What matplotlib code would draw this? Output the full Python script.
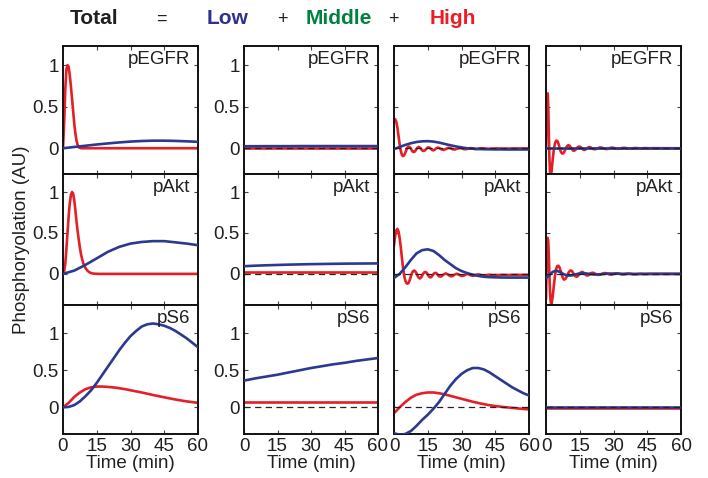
import matplotlib
matplotlib.use("Agg")
import matplotlib.pyplot as plt

# ---------------- data ----------------
T5 = [0, 5, 10, 15, 20, 25, 30, 35, 40, 45, 50, 55, 60]
T2_5 = [0, 2.5, 5, 7.5, 10, 12.5, 15, 17.5, 20, 22.5, 25, 27.5, 30, 32.5,
        35, 37.5, 40, 42.5, 45, 47.5, 50, 52.5, 55, 57.5, 60]

# Total
TOTAL_PEGFR_RED_T = [0, 0.5, 1, 1.5, 2, 2.5, 3, 3.5, 4, 4.5, 5, 5.5, 6, 6.5, 7, 8,
                     10, 20, 30, 40, 50, 60]
TOTAL_PEGFR_RED = [0, 0.3, 0.7, 0.95, 1.0, 0.98, 0.88, 0.75, 0.6, 0.45, 0.3, 0.18,
                   0.09, 0.04, 0.01, 0, 0, 0, 0, 0, 0, 0]
TOTAL_PEGFR_BLUE = [0, 0.015, 0.03, 0.045, 0.058, 0.07, 0.08, 0.087, 0.091, 0.091,
                    0.088, 0.083, 0.077]

TOTAL_PAKT_RED_T = [0, 0.5, 1, 1.5, 2, 2.5, 3, 3.5, 4, 4.5, 5, 5.5, 6, 6.5, 7, 7.5,
                    8, 8.5, 9, 10, 11, 12, 13, 14, 16, 20, 30, 40, 50, 60]
TOTAL_PAKT_RED = [0, 0.03, 0.12, 0.3, 0.5, 0.7, 0.86, 0.96, 1.0, 0.98, 0.9, 0.78,
                  0.64, 0.52, 0.42, 0.32, 0.24, 0.18, 0.13, 0.07, 0.035, 0.015,
                  0.006, 0.002, 0, 0, 0, 0, 0, 0]
TOTAL_PAKT_BLUE = [0, 0.04, 0.11, 0.19, 0.27, 0.33, 0.37, 0.39, 0.40, 0.40, 0.385,
                   0.37, 0.35]

TOTAL_PS6_BLUE = [0, 0.005, 0.03, 0.08, 0.15, 0.23, 0.33, 0.44, 0.55, 0.66, 0.77,
                  0.87, 0.96, 1.03, 1.09, 1.12, 1.13, 1.12, 1.1, 1.07, 1.03, 0.98,
                  0.93, 0.87, 0.81]
TOTAL_PS6_RED = [0, 0.06, 0.14, 0.2, 0.245, 0.27, 0.28, 0.28, 0.275, 0.268, 0.258,
                 0.245, 0.23, 0.215, 0.2, 0.183, 0.166, 0.15, 0.135, 0.12, 0.105,
                 0.092, 0.08, 0.07, 0.06]

# Low
LOW_PEGFR_BLUE = [0.024, 0.024, 0.025, 0.025, 0.025, 0.026, 0.026, 0.026, 0.026,
                  0.026, 0.026, 0.026, 0.026]
LOW_PEGFR_RED = [0.003, 0.003, 0.003, 0.003, 0.003, 0.003, 0.003, 0.003, 0.003,
                 0.003, 0.003, 0.003, 0.003]
LOW_PAKT_BLUE = [0.094, 0.1, 0.105, 0.109, 0.113, 0.116, 0.119, 0.121, 0.123,
                 0.125, 0.126, 0.127, 0.128]
LOW_PAKT_RED = [0.018, 0.018, 0.018, 0.018, 0.018, 0.018, 0.018, 0.018, 0.018,
                0.018, 0.018, 0.018, 0.018]
LOW_PS6_BLUE = [0.36, 0.39, 0.415, 0.44, 0.47, 0.5, 0.53, 0.555, 0.58, 0.6,
                0.625, 0.645, 0.665]
LOW_PS6_RED = [0.078, 0.078, 0.078, 0.078, 0.078, 0.078, 0.078, 0.078, 0.078,
               0.078, 0.078, 0.078, 0.078]

# Middle
MID_OSC_T = [0, 0.5, 1, 1.5, 2, 2.5, 3, 3.5, 4, 4.5, 5, 5.5, 6, 6.5, 7, 7.5, 8,
             8.5, 9, 9.5, 10, 10.5, 11, 11.5, 12, 12.5, 13, 13.5, 14, 14.5, 15,
             15.5, 16, 16.5, 17, 17.5, 18, 18.5, 19, 19.5, 20, 21, 22, 23, 24, 25,
             26, 27, 28, 29, 30, 31, 32, 33, 34, 35, 36, 37, 38, 39, 40, 42, 44,
             46, 48, 50, 52, 54, 56, 58, 60]
MID_PEGFR_RED = [0.34, 0.35, 0.32, 0.25, 0.15, 0.05, -0.03, -0.08, -0.095, -0.085,
                 -0.055, -0.02, 0.01, 0.02, 0.015, -0.005, -0.03, -0.045, -0.045,
                 -0.03, -0.01, 0.008, 0.015, 0.008, -0.008, -0.025, -0.033, -0.03,
                 -0.018, -0.003, 0.008, 0.01, 0.003, -0.01, -0.022, -0.026, -0.02,
                 -0.008, 0.003, 0.007, 0.004, -0.012, -0.02, -0.01, 0.004, 0.002,
                 -0.012, -0.016, -0.006, 0.003, 0.0, -0.01, -0.012, -0.004, 0.002,
                 -0.002, -0.009, -0.008, -0.002, 0.001, -0.003, -0.006, -0.004,
                 -0.002, -0.004, -0.004, -0.003, -0.003, -0.002, -0.002, -0.002]
MID_PEGFR_BLUE = [-0.01, 0.015, 0.04, 0.06, 0.075, 0.083, 0.085, 0.08, 0.068,
                  0.052, 0.036, 0.022, 0.01, 0.0, -0.006, -0.01, -0.012, -0.013,
                  -0.014, -0.014, -0.015, -0.015, -0.015, -0.015, -0.015]
MID_PAKT_RED = [0.35, 0.46, 0.53, 0.55, 0.52, 0.44, 0.33, 0.2, 0.08, -0.02, -0.08,
                -0.11, -0.12, -0.11, -0.075, -0.03, 0.01, 0.035, 0.04, 0.03, 0.005,
                -0.025, -0.048, -0.056, -0.046, -0.022, 0.003, 0.02, 0.024, 0.014,
                -0.008, -0.03, -0.042, -0.04, -0.024, -0.005, 0.01, 0.013, 0.004,
                -0.014, -0.03, -0.032, -0.008, 0.006, -0.008, -0.028, -0.028,
                -0.008, 0.002, -0.012, -0.026, -0.022, -0.006, -0.002, -0.016,
                -0.024, -0.016, -0.006, -0.008, -0.018, -0.02, -0.01, -0.016,
                -0.014, -0.012, -0.014, -0.012, -0.012, -0.012, -0.012, -0.012]
MID_PAKT_BLUE = [-0.05, 0.0, 0.08, 0.17, 0.25, 0.29, 0.3, 0.28, 0.23, 0.17, 0.12,
                 0.07, 0.035, 0.01, -0.01, -0.025, -0.035, -0.04, -0.042, -0.044,
                 -0.045, -0.045, -0.045, -0.045, -0.045]
MID_PS6_RED = [-0.08, 0.0, 0.07, 0.13, 0.17, 0.19, 0.2, 0.2, 0.19, 0.175, 0.155,
               0.135, 0.115, 0.095, 0.075, 0.058, 0.042, 0.028, 0.017, 0.008, 0.0,
               -0.008, -0.015, -0.022, -0.028]
MID_PS6_BLUE = [-0.35, -0.37, -0.36, -0.32, -0.25, -0.17, -0.1, -0.02, 0.07, 0.18,
                0.29, 0.38, 0.45, 0.5, 0.53, 0.53, 0.51, 0.47, 0.42, 0.37, 0.32,
                0.27, 0.23, 0.19, 0.16]

# High
HIGH_PEGFR_RED_T = [0, 0.25, 0.5, 0.75, 1, 1.25, 1.5, 1.75, 2, 2.25, 2.5, 3, 3.5,
                    4, 4.5, 5, 5.5, 6, 6.5, 7, 7.5, 8, 8.5, 9, 9.5, 10, 10.5, 11,
                    11.5, 12, 12.5, 13, 13.5, 14, 14.5, 15, 15.5, 16, 16.5, 17,
                    17.5, 18, 18.5, 19, 19.5, 20, 21, 22, 23, 24, 25, 26, 27, 28,
                    29, 30, 31, 32, 33, 34, 35, 36, 37, 38, 39, 40, 42, 44, 46, 48,
                    50, 55, 60]
HIGH_PEGFR_RED = [0.0, 0.4, 0.62, 0.66, 0.5, 0.2, -0.1, -0.28, -0.34, -0.33, -0.27,
                  -0.13, -0.01, 0.06, 0.09, 0.09, 0.06, 0.01, -0.035, -0.06,
                  -0.065, -0.05, -0.02, 0.01, 0.03, 0.037, 0.03, 0.01, -0.012,
                  -0.027, -0.03, -0.022, -0.006, 0.01, 0.02, 0.02, 0.012, -0.002,
                  -0.015, -0.02, -0.017, -0.006, 0.005, 0.013, 0.014, 0.008, -0.01,
                  -0.012, 0.0, 0.01, 0.006, -0.006, -0.01, -0.002, 0.007, 0.006,
                  -0.003, -0.007, -0.003, 0.004, 0.005, 0.0, -0.005, -0.003, 0.002,
                  0.003, -0.002, 0.002, -0.001, 0.001, 0.0, 0.0, 0.0]
HIGH_PEGFR_BLUE = [0.005, 0.005, 0.005, 0.005, 0.005, 0.005, 0.005, 0.005, 0.005,
                   0.005, 0.005, 0.005, 0.005]
HIGH_PAKT_RED_T = [0, 0.25, 0.5, 0.75, 1, 1.25, 1.5, 1.75, 2, 2.25, 2.5, 3, 3.5, 4,
                   4.5, 5, 5.5, 6, 6.5, 7, 7.5, 8, 8.5, 9, 9.5, 10, 10.5, 11, 11.5,
                   12, 12.5, 13, 13.5, 14, 14.5, 15, 15.5, 16, 16.5, 17, 17.5, 18,
                   18.5, 19, 19.5, 20, 21, 22, 23, 24, 25, 26, 27, 28, 29, 30, 31,
                   32, 33, 34, 35, 36, 37, 38, 39, 40, 42, 44, 46, 50, 55, 60]
HIGH_PAKT_RED = [-0.3, 0.05, 0.35, 0.44, 0.4, 0.22, 0.0, -0.2, -0.32, -0.37, -0.36,
                 -0.27, -0.14, -0.02, 0.06, 0.095, 0.1, 0.08, 0.04, -0.01, -0.05,
                 -0.07, -0.065, -0.045, -0.015, 0.015, 0.035, 0.042, 0.035, 0.015,
                 -0.008, -0.027, -0.035, -0.03, -0.015, 0.003, 0.018, 0.024, 0.02,
                 0.007, -0.008, -0.018, -0.02, -0.014, -0.002, 0.01, 0.014, 0.0,
                 -0.012, -0.01, 0.002, 0.01, 0.006, -0.006, -0.009, -0.002, 0.006,
                 0.006, -0.002, -0.006, -0.003, 0.003, 0.004, 0.0, -0.003, -0.002,
                 0.002, -0.001, 0.001, 0.0, 0.0, 0.0]
HIGH_PAKT_BLUE_T = [0, 1, 2, 3, 4, 5, 6, 7, 8, 9, 10, 11, 12, 13, 14, 15, 16, 18,
                    20, 22, 24, 26, 28, 30, 35, 40, 50, 60]
HIGH_PAKT_BLUE = [-0.05, -0.03, 0.0, 0.025, 0.035, 0.035, 0.025, 0.01, -0.005,
                  -0.015, -0.02, -0.02, -0.015, -0.008, 0.0, 0.005, 0.008, 0.005,
                  -0.003, -0.008, -0.005, 0.0, 0.004, 0.003, 0.0, -0.002, 0.0, 0.0]
HIGH_PS6_RED = [-0.004, -0.004, -0.004, -0.004, -0.004, -0.004, -0.004, -0.004,
                -0.004, -0.004, -0.004, -0.004, -0.004]
HIGH_PS6_BLUE = [0.0, 0.0, 0.0, 0.0, 0.0, 0.0, 0.0, 0.0, 0.0, 0.0, 0.0, 0.0, 0.0]

COLUMN_TITLES = ["Total", "Low", "Middle", "High"]
ROW_LABELS = ["pEGFR", "pAkt", "pS6"]
X_TICKS = [0, 15, 30, 45, 60]
Y_TICKS = [0, 0.5, 1]
Y_TICK_LABELS = ["0", "0.5", "1"]

# (red_t, red, blue_t, blue) for each row (pEGFR, pAkt, pS6) and column
PANELS = [
    [(TOTAL_PEGFR_RED_T, TOTAL_PEGFR_RED, T5, TOTAL_PEGFR_BLUE),
     (T5, LOW_PEGFR_RED, T5, LOW_PEGFR_BLUE),
     (MID_OSC_T, MID_PEGFR_RED, T2_5, MID_PEGFR_BLUE),
     (HIGH_PEGFR_RED_T, HIGH_PEGFR_RED, T5, HIGH_PEGFR_BLUE)],
    [(TOTAL_PAKT_RED_T, TOTAL_PAKT_RED, T5, TOTAL_PAKT_BLUE),
     (T5, LOW_PAKT_RED, T5, LOW_PAKT_BLUE),
     (MID_OSC_T, MID_PAKT_RED, T2_5, MID_PAKT_BLUE),
     (HIGH_PAKT_RED_T, HIGH_PAKT_RED, HIGH_PAKT_BLUE_T, HIGH_PAKT_BLUE)],
    [(T2_5, TOTAL_PS6_RED, T2_5, TOTAL_PS6_BLUE),
     (T5, LOW_PS6_RED, T5, LOW_PS6_BLUE),
     (T2_5, MID_PS6_RED, T2_5, MID_PS6_BLUE),
     (T5, HIGH_PS6_RED, T5, HIGH_PS6_BLUE)],
]

# ---------------- style ----------------
RED = "#e41f26"
BLUE = "#2b3990"
TXT = "#231f20"
W, H = 708, 478
COLS = [(63, 198), (244, 378), (394, 529), (546, 681)]
ROWS = [(46, 174), (174, 305), (305, 434)]
YLIMS = [(-0.31, 1.23), (-0.38, 1.22), (-0.36, 1.38)]
FONT = ["Liberation Sans", "DejaVu Sans"]
FS = 13.5

plt.rcParams["font.family"] = FONT
fig = plt.figure(figsize=(W / 100, H / 100), dpi=100)

for r, (y0, y1) in enumerate(ROWS):
    for c, (x0, x1) in enumerate(COLS):
        ax = fig.add_axes([x0 / W, 1 - y1 / H, (x1 - x0) / W, (y1 - y0) / H])
        rt, rv, bt, bv = PANELS[r][c]
        ax.plot(rt, rv, color=RED, lw=1.9, solid_joinstyle="round", zorder=2)
        ax.plot(bt, bv, color=BLUE, lw=1.9, solid_joinstyle="round", zorder=3)
        if c > 0:
            ax.axhline(0, color="#222222", lw=0.9, dashes=(5, 3.5), zorder=4)
        ax.set_xlim(0, 60)
        ax.set_ylim(*YLIMS[r])
        ax.set_xticks(X_TICKS)
        ax.set_yticks(Y_TICKS)
        ax.tick_params(direction="in", length=3, width=0.8, top=True, right=True,
                       color="#444444", labelsize=FS, labelcolor=TXT, pad=3)
        if r == 2:
            ax.set_xticklabels([str(v) for v in X_TICKS])
            ax.set_xlabel("Time (min)", fontsize=FS, color=TXT, labelpad=0)
        else:
            ax.set_xticklabels([])
        if c <= 1:
            ax.set_yticklabels(Y_TICK_LABELS)
        else:
            ax.set_yticklabels([])
        for s in ax.spines.values():
            s.set_linewidth(1.4)
            s.set_color("#111111")
        ax.annotate(ROW_LABELS[r], xy=(1, 1), xycoords="axes fraction",
                    xytext=(-8, -5), textcoords="offset pixels", ha="right",
                    va="top", fontsize=FS, color=TXT)

fig.text(22 / W, 1 - 240 / H, "Phosphoryolation (AU)", rotation=90, ha="center",
         va="center", fontsize=FS, color=TXT)

TITLE_FONT = ["Liberation Sans Narrow", "Liberation Sans", "DejaVu Sans"]
title_specs = [(94, COLUMN_TITLES[0], TXT), (228, COLUMN_TITLES[1], "#2e3192"),
               (339, COLUMN_TITLES[2], "#00813f"), (453, COLUMN_TITLES[3], "#ed1c24")]
for x, s, col in title_specs:
    fig.text(x / W, 1 - 18 / H, s, ha="center", va="center", fontsize=15,
             fontweight="bold", color=col, family=TITLE_FONT)
for x, s in [(161, "="), (282, "+"), (393, "+")]:
    fig.text(x / W, 1 - 19 / H, s, ha="center", va="center", fontsize=13,
             color=TXT)

fig.savefig("out.png", dpi=100)
